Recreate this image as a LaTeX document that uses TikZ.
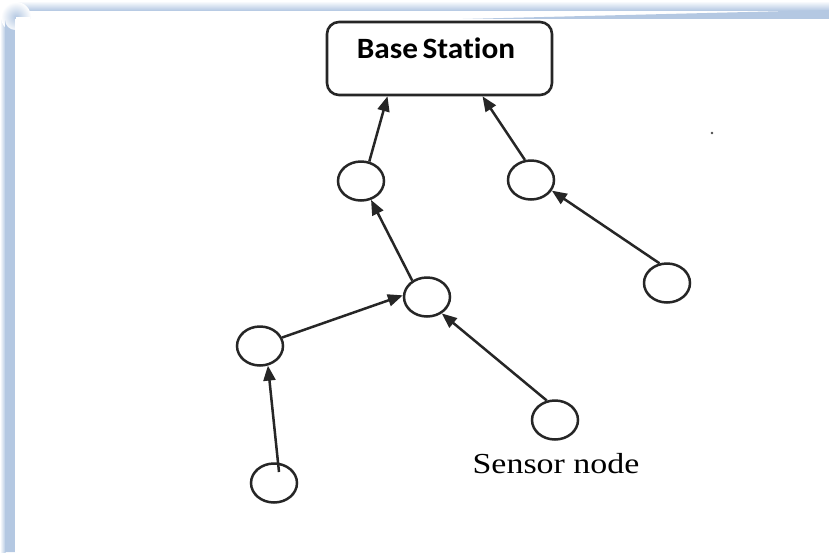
\documentclass[tikz,border=0pt]{standalone}
\usepackage{fontspec}
\setmainfont{Liberation Serif}
\newfontfamily\bsfont[Ligatures=NoCommon]{Carlito}
\usetikzlibrary{arrows.meta,shapes.geometric}
\definecolor{bandblue}{RGB}{180,200,226}
\tikzset{
  sensor/.style={ellipse, draw=black!85, line width=2.5pt, minimum width=46pt, minimum height=39pt, inner sep=0pt},
  station/.style={rectangle, draw=black!85, line width=2.6pt, rounded corners=12pt, minimum width=225pt, minimum height=73pt, inner sep=0pt},
  link/.style={draw=black!85, line width=2.5pt, -{Triangle[length=15pt,width=12pt]}},
  lbl/.style={inner sep=0pt, anchor=base}
}
\begin{document}
\begin{tikzpicture}[x=1pt,y=-1pt]
\useasboundingbox (0,0) rectangle (829,552);
\fill[white] (0,0) rectangle (829,552);
% frame band: soft outer edge
\shade[top color=white, bottom color=bandblue] (14,1) rectangle (829,10.5);
\shade[left color=white, right color=bandblue] (0,16) rectangle (5.5,552);
\shade[inner color=bandblue, outer color=white] (16,17) circle (15);
\fill[white] (16,17) rectangle (30,40);
% frame band: solid part
\fill[bandblue] (5,552) -- (5,20) arc[start angle=180, end angle=90, radius=10] -- (829,10) -- (829,19) -- (15,19) -- (15,552) -- cycle;
\fill[white] (15,19) rectangle (829,552);
% speck
\fill[black!70] (712,133) circle (1.3);
% base station
\node[station] (bs) at (439.5,58.5) {};
\node[lbl] (bstext) at (436,58) {\scalebox{1.06}[1]{\bsfont\bfseries\fontsize{29.5}{31}\selectfont Base\kern-0.08em\ Station}};
% sensors
\node[sensor] (c1) at (361,181) {};
\node[sensor] (c2) at (531,180) {};
\node[sensor] (c3) at (427,297) {};
\node[sensor] (c4) at (260,346) {};
\node[sensor] (c5) at (274,483) {};
\node[sensor] (c6) at (667,283) {};
\node[sensor] (c7) at (555,420) {};
\node[lbl] (sn) at (556,473) {\scalebox{1.17}[1]{\fontsize{29}{31}\selectfont Sensor node}};
% links
\draw[link] (c1.67) -- ([xshift=-52pt]bs.south);
\draw[link] (c2.107) -- ([xshift=43pt]bs.south);
\draw[link] (c3.132) -- (c1.-62);
\draw[link] (c4.21) -- (c3.176);
\draw[link] ([shift={(5,-11)}]c5.center) -- (c4.-68);
\draw[link] (c7.113) -- (c3.-48);
\draw[link] (c6.111) -- (c2.-27);
\end{tikzpicture}
\end{document}
